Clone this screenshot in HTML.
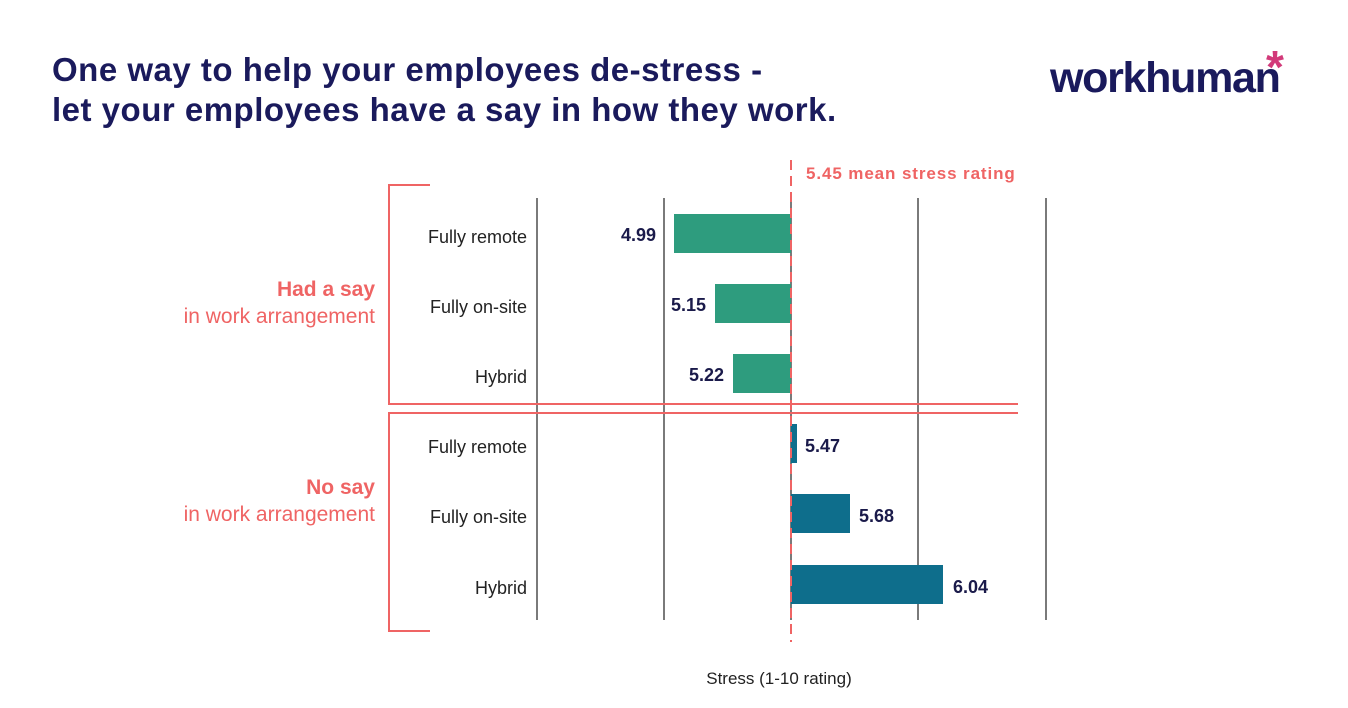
<!DOCTYPE html>
<html><head><meta charset="utf-8"><style>
body{margin:0;width:1348px;height:708px;background:#fff;overflow:hidden;font-family:"Liberation Sans",sans-serif;position:relative}
.t{position:absolute;left:52px;top:50px;font-size:33px;font-weight:bold;color:#1a1a5c;line-height:40px;letter-spacing:0.5px}
.abs{position:absolute}
</style></head><body>
<div class="t">One way to help your employees de-stress -<br>let your employees have a say in how they work.</div>
<div class="abs" style="left:1050px;top:54px;font-size:43px;font-weight:bold;color:#1a1a5c;letter-spacing:-1.3px">workhuman</div>
<div class="abs" style="left:1266px;top:40px;font-size:46px;font-weight:bold;color:#d23a7a">*</div>
<svg class="abs" style="left:0;top:0" width="1348" height="708">
<g stroke="#222" stroke-width="1.2">
<line x1="537" y1="198" x2="537" y2="620"/><line x1="664" y1="198" x2="664" y2="620"/>
<line x1="791" y1="198" x2="791" y2="620"/><line x1="918" y1="198" x2="918" y2="620"/>
<line x1="1046" y1="198" x2="1046" y2="620"/></g>
<g fill="#2e9c7e"><rect x="674" y="214" width="117" height="39"/><rect x="715" y="284" width="76" height="39"/><rect x="733" y="354" width="58" height="39"/></g>
<g fill="#0e6e8c"><rect x="791" y="424" width="6" height="39"/><rect x="791" y="494" width="59" height="39"/><rect x="791" y="565" width="152" height="39"/></g>
<g stroke="#ef6464" stroke-width="2" fill="none">
<polyline points="430,185 389,185 389,404 1018,404"/>
<polyline points="1018,413 389,413 389,631 430,631"/>
<line x1="791" y1="160" x2="791" y2="642" stroke-dasharray="10,6"/></g>
<g font-family="Liberation Sans, sans-serif" font-size="18" fill="#222" text-anchor="end">
<text x="527" y="243">Fully remote</text><text x="527" y="313">Fully on-site</text><text x="527" y="383">Hybrid</text>
<text x="527" y="453">Fully remote</text><text x="527" y="523">Fully on-site</text><text x="527" y="594">Hybrid</text></g>
<g font-size="18" font-weight="bold" fill="#1a1a4a">
<text x="656" y="241" text-anchor="end">4.99</text><text x="706" y="311" text-anchor="end">5.15</text><text x="724" y="381" text-anchor="end">5.22</text>
<text x="805" y="452">5.47</text><text x="859" y="522">5.68</text><text x="953" y="593">6.04</text></g>
<g font-size="21" fill="#ef6464" text-anchor="end">
<text x="375" y="296" font-weight="bold">Had a say</text><text x="375" y="323">in work arrangement</text>
<text x="375" y="494" font-weight="bold">No say</text><text x="375" y="521">in work arrangement</text></g>
<text x="806" y="179" font-size="17" font-weight="bold" fill="#ef6464" letter-spacing="0.9">5.45 mean stress rating</text>
<text x="779" y="684" font-size="17" fill="#222" text-anchor="middle">Stress (1-10 rating)</text>
</svg>
</body></html>
